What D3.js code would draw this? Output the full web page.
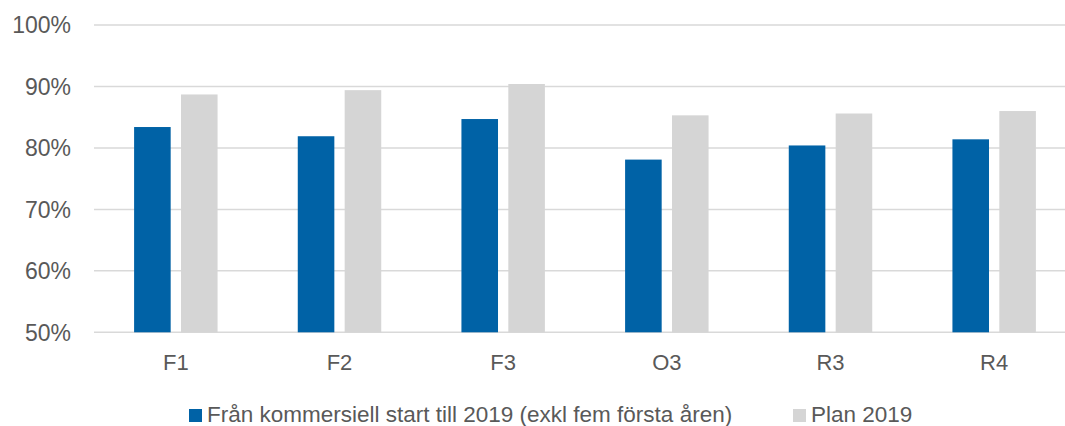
<!DOCTYPE html>
<html>
<head>
<meta charset="utf-8">
<script src="https://cdn.jsdelivr.net/npm/d3@7"></script>
<style>
  body { margin: 0; background: #fff; }
  text { font-family: "Liberation Sans", Arial, sans-serif; fill: #595959; }
</style>
</head>
<body>
<div id="chart"></div>
<script>
const WIDTH = 1065, HEIGHT = 426;

// data
const categories = ["F1", "F2", "F3", "O3", "R3", "R4"];
const seriesNames = ["Från kommersiell start till 2019 (exkl fem första åren)", "Plan 2019"];
const actual = [83.4, 81.9, 84.7, 78.1, 80.4, 81.4];
const plan = [88.7, 89.4, 90.4, 85.3, 85.6, 86.0];
const yTicks = [50, 60, 70, 80, 90, 100];
const colors = ["#0062a6", "#d5d5d5"];

const rows = categories.map((c, i) => ({ cat: c, values: [actual[i], plan[i]] }));

const svg = d3.select("#chart").append("svg")
    .attr("width", WIDTH)
    .attr("height", HEIGHT);

// scales
const x0 = d3.scaleBand()
    .domain(categories)
    .range([94, 1076])
    .paddingInner(0.49)
    .paddingOuter(0.245);
const x1 = d3.scaleBand()
    .domain([0, 1])
    .range([0, x0.bandwidth()])
    .paddingInner(0.22);
const y = d3.scaleLinear()
    .domain([50, 100])
    .range([332.3, 25]);

// gridlines
svg.append("g")
    .selectAll("line")
    .data(yTicks)
    .join("line")
    .attr("x1", 94).attr("x2", WIDTH)
    .attr("y1", d => y(d)).attr("y2", d => y(d))
    .attr("stroke", "#d9d9d9")
    .attr("stroke-width", 1.5);

// y labels
svg.append("g")
    .selectAll("text")
    .data(yTicks)
    .join("text")
    .attr("x", 71)
    .attr("y", d => y(d))
    .attr("dy", "0.36em")
    .attr("text-anchor", "end")
    .style("font-size", "23px")
    .text(d => d + "%");

// bars
const groups = svg.append("g")
    .selectAll("g")
    .data(rows)
    .join("g")
    .attr("transform", d => "translate(" + x0(d.cat) + ",0)");
groups.selectAll("rect")
    .data(d => d.values.map((v, k) => ({ k: k, v: v })))
    .join("rect")
    .attr("x", d => x1(d.k))
    .attr("width", x1.bandwidth())
    .attr("y", d => y(d.v))
    .attr("height", d => y(50) - y(d.v))
    .attr("fill", d => colors[d.k]);

// x labels
svg.append("g")
    .selectAll("text")
    .data(categories)
    .join("text")
    .attr("x", d => x0(d) + x0.bandwidth() / 2)
    .attr("y", 370)
    .attr("text-anchor", "middle")
    .style("font-size", "22px")
    .text(d => d);

// legend
const legendX = [189, 793];
const legend = svg.append("g")
    .selectAll("g")
    .data(seriesNames)
    .join("g")
    .attr("transform", (d, i) => "translate(" + legendX[i] + ",0)");
legend.append("rect")
    .attr("x", 0).attr("y", 409)
    .attr("width", 13).attr("height", 13)
    .attr("fill", (d, i) => colors[i]);
legend.append("text")
    .attr("x", 18)
    .attr("y", 422)
    .style("font-size", "22.5px")
    .text(d => d);
</script>
</body>
</html>
